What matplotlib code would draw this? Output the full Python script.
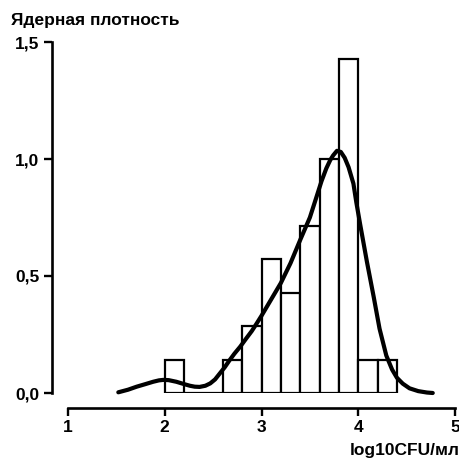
import matplotlib
matplotlib.use("Agg")
import matplotlib.pyplot as plt
import numpy as np

# Histogram bins (log10 CFU/ml) and densities
bin_edges = [2.0, 2.2, 2.4, 2.6, 2.8, 3.0, 3.2, 3.4, 3.6, 3.8, 4.0, 4.2, 4.4]
densities = [0.143, 0.0, 0.0, 0.143, 0.286, 0.571, 0.429, 0.714, 1.0, 1.429, 0.143, 0.143]

# Kernel density curve
kde_x = [1.52, 1.62, 1.71, 1.80, 1.88, 1.94, 1.985, 2.04, 2.12, 2.20, 2.26, 2.31, 2.36,
         2.42, 2.47, 2.52, 2.57, 2.62, 2.67, 2.72, 2.78, 2.84, 2.90, 2.95, 3.00, 3.10,
         3.20, 3.30, 3.40, 3.50, 3.57, 3.62, 3.67, 3.71, 3.74, 3.78, 3.82, 3.86, 3.90,
         3.95, 3.98, 4.02, 4.09, 4.16, 4.22, 4.29, 4.35, 4.40, 4.46, 4.53, 4.62, 4.71, 4.77]
kde_y = [0.003, 0.014, 0.027, 0.038, 0.048, 0.054, 0.056, 0.055, 0.048, 0.038, 0.031, 0.027, 0.026,
         0.031, 0.041, 0.058, 0.084, 0.11, 0.14, 0.168, 0.198, 0.232, 0.265, 0.297, 0.33, 0.40,
         0.47, 0.555, 0.654, 0.75, 0.84, 0.905, 0.96, 0.995, 1.015, 1.035, 1.03, 1.005, 0.965,
         0.895, 0.815, 0.72, 0.56, 0.41, 0.275, 0.16, 0.1, 0.065, 0.04, 0.02, 0.008, 0.002, 0.0]

x_ticks = [1, 2, 3, 4, 5]
y_ticks = [0.0, 0.5, 1.0, 1.5]
y_tick_labels = ["0,0", "0,5", "1,0", "1,5"]
title_text = "Ядерная плотность"
x_label = "log10CFU/мл"

plt.rcParams['font.family'] = ['Liberation Sans', 'DejaVu Sans']
plt.rcParams['font.weight'] = 'bold'

fig = plt.figure(figsize=(4.6, 4.58), dpi=100)
W, H = 460, 458
ax = fig.add_axes([68 / W, (H - 393) / H, 387 / W, 351 / H])

lefts = bin_edges[:-1]
widths = np.diff(bin_edges)
ax.bar(lefts, densities, width=widths, align='edge', facecolor='white',
       edgecolor='black', linewidth=1.6, zorder=2)
ax.plot(kde_x, kde_y, color='black', linewidth=3.0, solid_capstyle='round',
        solid_joinstyle='round', zorder=3, clip_on=False)

ax.set_xlim(1, 5)
ax.set_ylim(0, 1.5)
ax.set_xticks(x_ticks)
ax.set_xticklabels([str(t) for t in x_ticks])
ax.set_yticks(y_ticks)
ax.set_yticklabels(y_tick_labels)

for s in ['top', 'right']:
    ax.spines[s].set_visible(False)
ax.spines['left'].set_position(('outward', 11.5))
ax.spines['bottom'].set_position(('outward', 10.8))
for s in ['left', 'bottom']:
    ax.spines[s].set_linewidth(1.9)
ax.tick_params(axis='both', width=1.7, length=6, labelsize=12.5, pad=3)
for lab in ax.get_xticklabels() + ax.get_yticklabels():
    lab.set_fontweight('bold')

fig.text(11 / W, 1 - 21 / H, title_text, fontsize=12.5, fontweight='bold',
         ha='left', va='center')
fig.text(460 / W, 1 - 451 / H, x_label, fontsize=12.5, fontweight='bold',
         ha='right', va='center')

fig.savefig("out.png", dpi=100)
